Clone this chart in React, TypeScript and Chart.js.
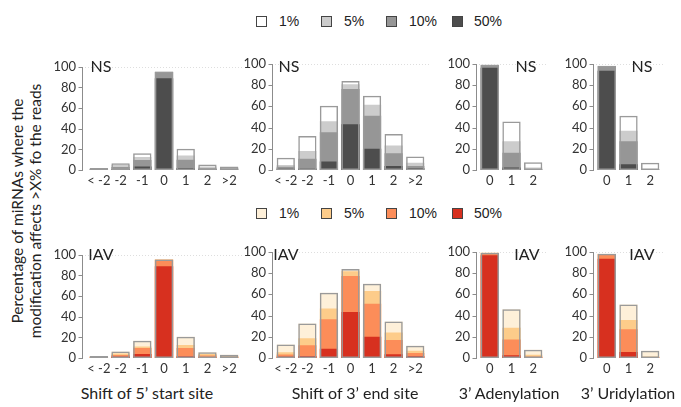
import React, { useEffect, useRef } from 'react';
import { Chart, registerables } from 'chart.js';
Chart.register(...registerables);

// ---------- data ----------
const shiftLabels = ['< -2', '-2', '-1', '0', '1', '2', '>2'];
const tailLabels = ['0', '1', '2'];
const thresholdLabels = ['1%', '5%', '10%', '50%'];
const yTickValues = [0, 20, 40, 60, 80, 100];

// NS – shift of 5' start site
const nsStart1 = [2, 6.5, 16.3, 95.5, 20.5, 5.3, 3.5];
const nsStart5 = [1.5, 5.0, 12.7, 95.3, 14, 3.5, 2.4];
const nsStart10 = [1.0, 3.0, 9.8, 95, 10, 1.8, 1.5];
const nsStart50 = [0.3, 0.5, 3.5, 89, 2, 0.5, 0.3];
// NS – shift of 3' end site
const nsEnd1 = [11.5, 32, 60.5, 83.7, 69.8, 34, 12.7];
const nsEnd5 = [4.7, 17.8, 46, 80.8, 61.5, 23, 6.8];
const nsEnd10 = [3, 10.6, 35.5, 76.3, 51, 15.7, 3.8];
const nsEnd50 = [1.5, 1.5, 8, 43, 20, 3.8, 1.8];
// NS – 3' adenylation
const nsAden1 = [99.2, 45.6, 7.4];
const nsAden5 = [99, 27, 2.4];
const nsAden10 = [98.7, 16.3, 1];
const nsAden50 = [96.3, 2.4, 0.3];
// NS – 3' uridylation
const nsUrid1 = [98.2, 51, 6.8];
const nsUrid5 = [98, 37, 1];
const nsUrid10 = [97.8, 27, 0.5];
const nsUrid50 = [93.5, 5.3, 0.2];

// IAV – shift of 5' start site
const iavStart1 = [2, 6.2, 16.6, 95.5, 20.7, 5.6, 3.2];
const iavStart5 = [1.5, 4.4, 11.2, 95.5, 12.7, 3.8, 2];
const iavStart10 = [1.2, 3, 9.8, 95.3, 9.8, 2.4, 1.2];
const iavStart50 = [0.3, 1.5, 3.8, 89, 1.8, 0.5, 0.3];
// IAV – shift of 3' end site
const iavEnd1 = [12.7, 32.5, 61.5, 83.7, 69.8, 34.3, 11.5];
const iavEnd5 = [5.3, 18.6, 46.7, 81.7, 63, 24, 6.8];
const iavEnd10 = [3.2, 12, 36.4, 77.2, 51.2, 16.9, 4.7];
const iavEnd50 = [1.5, 1.8, 8.6, 43.2, 20, 3.5, 2];
// IAV – 3' adenylation
const iavAden1 = [99.2, 46, 7.7];
const iavAden5 = [99, 28.4, 3];
const iavAden10 = [98.3, 17.5, 1.5];
const iavAden50 = [96.8, 2.7, 0.5];
// IAV – 3' uridylation
const iavUrid1 = [98.2, 50.3, 6.8];
const iavUrid5 = [98, 35.8, 1.5];
const iavUrid10 = [97.8, 27, 0.7];
const iavUrid50 = [93.5, 5.6, 0.3];

const nsColors = ['#ffffff', '#cccccc', '#969696', '#4d4d4d'];
const iavColors = ['#fef0d9', '#fdcc8a', '#fc8d59', '#d7301f'];

const FONT = 'Lato, "Open Sans", sans-serif';

// ---------- axis plugin ----------
const axisPlugin = {
  id: 'customAxis',
  beforeDatasetsDraw(chart: any, _a: any, opts: any) {
    const { ctx, chartArea, scales } = chart;
    const y = scales.y;
    const x0 = chartArea.left - opts.gap;
    const py = Math.round(y.getPixelForValue(100)) + 0.5;
    ctx.save();
    ctx.strokeStyle = '#dedede';
    ctx.lineWidth = 1;
    ctx.setLineDash([1, 2]);
    ctx.beginPath();
    ctx.moveTo(x0, py);
    ctx.lineTo(chartArea.right + 4, py);
    ctx.stroke();
    ctx.restore();
  },
  afterDraw(chart: any, _a: any, opts: any) {
    const { ctx, chartArea, scales } = chart;
    const y = scales.y;
    const x0 = Math.round(chartArea.left - opts.gap) + 0.5;
    ctx.save();
    ctx.strokeStyle = '#8c8c8c';
    ctx.lineWidth = 1;
    ctx.beginPath();
    ctx.moveTo(x0, Math.round(y.getPixelForValue(100)));
    ctx.lineTo(x0, Math.round(y.getPixelForValue(0)) + 1);
    for (const t of y.ticks) {
      const py = Math.round(y.getPixelForValue(t.value)) + 0.5;
      ctx.moveTo(x0 - 4, py);
      ctx.lineTo(x0, py);
    }
    ctx.stroke();
    ctx.restore();
  },
};

type PanelProps = {
  left: number; top: number; plotW: number; gap: number;
  labels: string[]; series: number[][]; colors: string[];
};

const Y_W = 42;
const TOP_PAD = 10;
const PLOT_H = 113;
const X_H = 22;
const RIGHT_PAD = 8;

function Panel({ left, top, plotW, gap, labels, series, colors }: PanelProps) {
  const ref = useRef<HTMLCanvasElement>(null);
  useEffect(() => {
    if (!ref.current) return;
    const common = { barPercentage: 0.845, categoryPercentage: 1, grouped: false, borderSkipped: false as const };
    const datasets: any[] = [
      { label: 'outline', data: series[0], backgroundColor: 'rgba(0,0,0,0)', borderColor: '#9a9a9a', borderWidth: 1.5, ...common },
      { label: thresholdLabels[3], data: series[3], backgroundColor: colors[3], borderWidth: 0, ...common },
      { label: thresholdLabels[2], data: series[2], backgroundColor: colors[2], borderWidth: 0, ...common },
      { label: thresholdLabels[1], data: series[1], backgroundColor: colors[1], borderWidth: 0, ...common },
      { label: thresholdLabels[0], data: series[0], backgroundColor: colors[0], borderWidth: 0, ...common },
    ];
    const chart = new Chart(ref.current, {
      type: 'bar',
      data: { labels, datasets },
      plugins: [axisPlugin],
      options: {
        animation: false,
        responsive: false,
        devicePixelRatio: 1,
        layout: { padding: { top: TOP_PAD, right: RIGHT_PAD, left: 0, bottom: 0 } },
        plugins: {
          legend: { display: false },
          tooltip: { enabled: false },
          customAxis: { gap },
        } as any,
        scales: {
          x: {
            type: 'category',
            grid: { display: false, drawTicks: false },
            border: { display: false },
            ticks: { padding: 3, autoSkip: false, maxRotation: 0, color: '#333', font: { family: FONT, size: 13 } },
            afterFit: (s: any) => { s.height = X_H; },
          },
          y: {
            min: 0, max: 100,
            grid: { display: false, drawTicks: false },
            border: { display: false },
            afterBuildTicks: (s: any) => { s.ticks = yTickValues.map((v) => ({ value: v })); },
            ticks: { padding: gap + 6, color: '#333', font: { family: FONT, size: 13 } },
            afterFit: (s: any) => { s.width = Y_W; },
          },
        },
      },
    });
    return () => chart.destroy();
  }, []);
  const w = Y_W + plotW + RIGHT_PAD;
  const h = TOP_PAD + PLOT_H + X_H;
  return (
    <canvas ref={ref} width={w} height={h}
      style={{ position: 'absolute', left: left - Y_W, top: top - TOP_PAD, width: w, height: h }} />
  );
}

const txt = (s: string, x: number, y: number, size: number, family = FONT, extra: any = {}) => (
  <div style={{ position: 'absolute', left: x, top: y, transform: 'translate(-50%,-50%)', fontFamily: family, fontSize: size, color: '#222', whiteSpace: 'nowrap', lineHeight: 1, ...extra }}>{s}</div>
);

function Legend({ y, colors }: { y: number; colors: string[] }) {
  const boxX = [256, 321, 386, 452];
  const textX = [279, 344, 409, 474];
  return (
    <>
      {thresholdLabels.map((l, i) => (
        <React.Fragment key={l}>
          <div style={{ position: 'absolute', left: boxX[i], top: y - 5, width: 9, height: 9, background: colors[i], border: '1px solid #444' }} />
          <div style={{ position: 'absolute', left: textX[i], top: y - 8, fontFamily: '"Liberation Sans", Arial, sans-serif', fontSize: 14, color: '#222', lineHeight: '16px', whiteSpace: 'nowrap' }}>{l}</div>
        </React.Fragment>
      ))}
    </>
  );
}

const cols = [
  { left: 88, plotW: 152, gap: 6 },
  { left: 275, plotW: 151, gap: 3 },
  { left: 479, plotW: 65, gap: 3 },
  { left: 596, plotW: 65, gap: 3 },
];

export default function App() {
  const topY = 57;
  const botY = 245;
  const nsSeries = [
    [nsStart1, nsStart5, nsStart10, nsStart50],
    [nsEnd1, nsEnd5, nsEnd10, nsEnd50],
    [nsAden1, nsAden5, nsAden10, nsAden50],
    [nsUrid1, nsUrid5, nsUrid10, nsUrid50],
  ];
  const iavSeries = [
    [iavStart1, iavStart5, iavStart10, iavStart50],
    [iavEnd1, iavEnd5, iavEnd10, iavEnd50],
    [iavAden1, iavAden5, iavAden10, iavAden50],
    [iavUrid1, iavUrid5, iavUrid10, iavUrid50],
  ];
  const labelsFor = (i: number) => (i < 2 ? shiftLabels : tailLabels);
  return (
    <div style={{ position: 'absolute', left: 0, top: 0, width: 681, height: 407, background: '#fff', overflow: 'hidden' }}>
      <Legend y={21} colors={nsColors} />
      <Legend y={213} colors={iavColors} />
      {cols.map((c, i) => (
        <Panel key={'ns' + i} left={c.left} top={topY} plotW={c.plotW} gap={c.gap} labels={labelsFor(i)} series={nsSeries[i]} colors={nsColors} />
      ))}
      {cols.map((c, i) => (
        <Panel key={'iav' + i} left={c.left} top={botY} plotW={c.plotW} gap={c.gap} labels={labelsFor(i)} series={iavSeries[i]} colors={iavColors} />
      ))}
      {txt('NS', 101, 66, 16)}
      {txt('NS', 289, 66, 16)}
      {txt('NS', 526, 66, 16)}
      {txt('NS', 642, 66, 16)}
      {txt('IAV', 101, 254, 16)}
      {txt('IAV', 286, 254, 16)}
      {txt('IAV', 527, 254, 16)}
      {txt('IAV', 642, 254, 16)}
      {txt('Shift of 5’ start site', 147, 393, 16)}
      {txt('Shift of 3’ end site', 355, 393, 16)}
      {txt('3’ Adenylation', 509, 393, 16)}
      {txt('3’ Uridylation', 628, 393, 16)}
      <div style={{ position: 'absolute', left: 26, top: 211, transform: 'translate(-50%,-50%) rotate(-90deg)', fontFamily: FONT, fontSize: 15.5, color: '#222', whiteSpace: 'nowrap', textAlign: 'center', lineHeight: '18px' }}>
        <div>Percentage of miRNAs where the</div>
        <div>modification affects &gt;X% fo the reads</div>
      </div>
    </div>
  );
}
